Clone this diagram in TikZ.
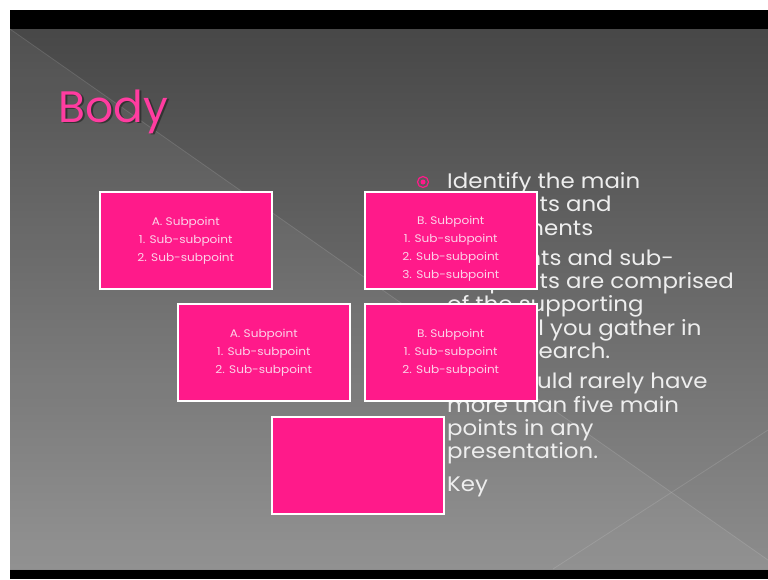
\documentclass[tikz,border=0pt]{standalone}
\usepackage{fontspec}
\setmainfont{Poppins}
\newfontfamily\widefont{Poppins}[FakeStretch=1.09]
\newfontfamily\boxfont{Poppins}[FakeStretch=1.1]
\usetikzlibrary{positioning}
\definecolor{slidepink}{RGB}{255,26,138}
\definecolor{titlepink}{RGB}{255,60,160}
\definecolor{subtextpink}{RGB}{252,210,232}
\definecolor{bodygray}{RGB}{238,238,238}
\begin{document}
\begin{tikzpicture}[x=1pt,y=-1pt,
  subbox/.style={draw=white,line width=1.5pt,fill=slidepink,
    minimum width=172pt,minimum height=97pt,anchor=north west,inner sep=0pt},
  subtext/.style={text=subtextpink,font=\boxfont\fontsize{11}{18}\selectfont,
    align=center,inner sep=0pt},
  para/.style={text=bodygray,font=\widefont\fontsize{21}{23.4}\selectfont,
    align=left,anchor=north west,inner sep=0pt},
  bulletmark/.style={circle,draw=slidepink,line width=1.2pt,
    minimum size=11pt,inner sep=0pt,
    path picture={\fill[slidepink] (path picture bounding box.center) circle (2.5pt);}},
  titletext/.style={font=\fontsize{44}{44}\selectfont,anchor=base west,inner sep=0pt}]
% slide background
\useasboundingbox (0,0) rectangle (768,579);
\fill[white] (0,0) rectangle (768,579);
\fill[black] (10,10) rectangle (768,29);
\fill[black] (10,569) rectangle (768,579);
\shade[top color=black!72,bottom color=black!45] (10,29) rectangle (768,569);
\fill[white,opacity=0.05] (10,29) -- (768,560) -- (768,569) -- (10,569) -- cycle;
\draw[white,opacity=0.12,line width=0.8pt] (10,29) -- (768,560);
\draw[white,opacity=0.12,line width=0.8pt] (553,569) -- (768,430);

% title
\node[titletext,text=black!85,opacity=0.7] (titleshadow) at (60,123.5) {Body};
\node[titletext,text=titlepink] (title) at (58.5,122) {Body};

% bullet text
\node[para] (p1) at (447,172) {Identify the main\\subpoints and\\components};
\node[para] (p2) at (447,249) {Subpoints and sub-\\subpoints are comprised\\of the supporting\\material you gather in\\your research.};
\node[para] (p3) at (447,373) {You should rarely have\\more than five main\\points in any\\presentation.};
\node[para] (p4) at (447,477) {Key};
\foreach \p in {p1,p2,p3,p4}
  \node[bulletmark] (b\p) at ([xshift=-24pt,yshift=-10pt]\p.north west) {};

% boxes
\node[subbox] (subA1) at (99,191) {};
\node[subtext,below=26pt of subA1.north] (subA1text) {A. Subpoint\\1. Sub-subpoint\\2. Sub-subpoint};
\node[subbox] (subB1) at (364,191) {};
\node[subtext,below=25pt of subB1.north] (subB1text) {B. Subpoint\\1. Sub-subpoint\\2. Sub-subpoint\\3. Sub-subpoint};
\node[subbox] (subA2) at (177,303) {};
\node[subtext,below=26pt of subA2.north] (subA2text) {A. Subpoint\\1. Sub-subpoint\\2. Sub-subpoint};
\node[subbox] (subB2) at (364,303) {};
\node[subtext,below=26pt of subB2.north] (subB2text) {B. Subpoint\\1. Sub-subpoint\\2. Sub-subpoint};
\node[subbox] (keybox) at (271,416) {};
\end{tikzpicture}
\end{document}
